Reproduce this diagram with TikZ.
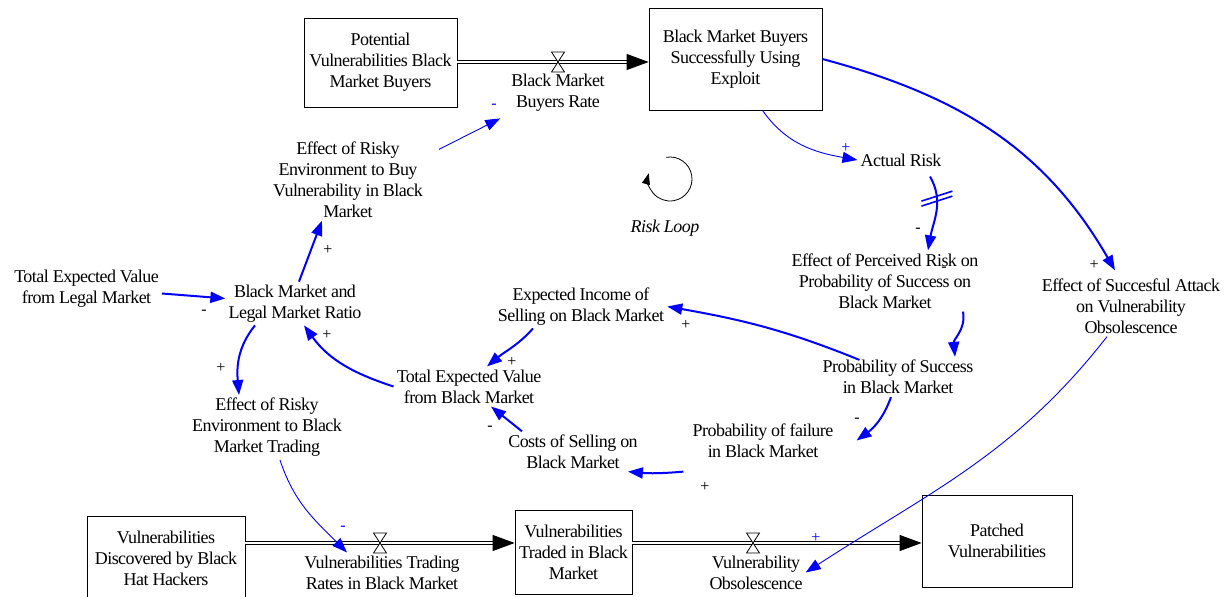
\documentclass[tikz,border=0pt]{standalone}
\usepackage{fontspec}
\setmainfont{Liberation Serif}[LetterSpace=-3]
\usetikzlibrary{arrows.meta}

\tikzset{
  var/.style={align=center, inner sep=3bp, font=\fontsize{18bp}{21bp}\selectfont},
  stock/.style={draw, line width=0.8bp, align=center, inner sep=2bp, font=\fontsize{18bp}{21bp}\selectfont},
  sign/.style={inner sep=0pt, font=\fontsize{16bp}{16bp}\selectfont},
  link/.style={draw=blue, line width=2bp, -{Triangle[length=15bp,width=11bp]}},
  thinlink/.style={draw=blue, line width=0.9bp, -{Triangle[length=15bp,width=11bp]}},
  pipe/.style={draw=black, double, double distance=2.2bp, line width=1bp},
  pipetip/.style={draw=black, line width=1bp, -{Triangle[length=22bp,width=16bp]}},
  valve/.style={draw=black, fill=white, line width=0.8bp},
}

\begin{document}
\begin{tikzpicture}
  \path[use as bounding box, fill=white] (0bp,0bp) rectangle (1229bp,597bp);

  \node (PVB) at (380.5bp,534.5bp) [stock, minimum width=153bp, minimum height=89bp] {Potential\\Vulnerabilities Black\\Market Buyers};
  \node (BMS) at (735.5bp,538bp)   [stock, minimum width=173bp, minimum height=102bp] {Black Market Buyers\\Successfully Using\\Exploit};
  \node (VD)  at (166bp,39bp)      [stock, minimum width=158bp, minimum height=84bp] {Vulnerabilities\\Discovered by Black\\Hat Hackers};
  \node (VT)  at (573.5bp,45bp)    [stock, minimum width=117bp, minimum height=84bp] {Vulnerabilities\\Traded in Black\\Market};
  \node (PV)  at (997bp,56bp)      [stock, minimum width=150bp, minimum height=92bp] {Patched\\Vulnerabilities};

  \node (BMBR) at (558bp,504.5bp) [var] {Black Market\\Buyers Rate};
  \node (VTR)  at (382bp,24.5bp)  [var] {Vulnerabilities Trading\\Rates in Black Market};
  \node (VO)   at (756bp,24.5bp)  [var] {Vulnerability\\Obsolescence};

  \node (AR)  at (901bp,437bp)    [var] {Actual Risk};
  \node (EPR) at (885bp,316bp)    [var] {Effect of Perceived Risk on\\Probability of Success on\\Black Market};
  \node (ESA) at (1131bp,291bp)   [var] {Effect of Succesful Attack\\on Vulnerability\\Obsolescence};
  \node (ERB) at (348bp,417.5bp)  [var] {Effect of Risky\\Environment to Buy\\Vulnerability in Black\\Market};
  \node (TEL) at (86.5bp,308.5bp) [var] {Total Expected Value\\from Legal Market};
  \node (BMR) at (295bp,293.5bp)  [var] {Black Market and\\Legal Market Ratio};
  \node (EIS) at (581bp,290.5bp)  [var] {Expected Income of\\Selling on Black Market};
  \node (PS)  at (898bp,220bp)    [var] {Probability of Success\\in Black Market};
  \node (TEB) at (469bp,210.5bp)  [var] {Total Expected Value\\from Black Market};
  \node (ERT) at (267bp,169.5bp)  [var] {Effect of Risky\\Environment to Black\\Market Trading};
  \node (CS)  at (573bp,145.5bp)  [var] {Costs of Selling on\\Black Market};
  \node (PF)  at (763bp,156.5bp)  [var] {Probability of failure\\in Black Market};

  \node (RL) at (665bp,369bp) [var, font=\fontsize{18bp}{21bp}\selectfont\itshape] {Risk Loop};
  \draw (670bp,418bp) ++(100:22bp) arc[start angle=100, end angle=-195, radius=22bp] [line width=0.8bp, -{Triangle[length=11bp,width=8bp]}];

  \coordinate (V1) at (558bp,535bp);
  \coordinate (V2) at (380bp,54bp);
  \coordinate (V3) at (753bp,54bp);
  \coordinate (P1) at (BMS.west |- V1);
  \coordinate (P2) at (VT.west |- V2);
  \coordinate (P3) at (PV.west |- V3);

  \draw (PVB.east |- V1) -- ([xshift=-20bp]P1) [pipe];
  \draw (VD.east |- V2) -- ([xshift=-20bp]P2) [pipe];
  \draw (VT.east |- V3) -- ([xshift=-20bp]P3) [pipe];
  \draw ([xshift=-2bp]P1) -- (P1) [pipetip];
  \draw ([xshift=-2bp]P2) -- (P2) [pipetip];
  \draw ([xshift=-2bp]P3) -- (P3) [pipetip];
  \draw (V1) ++(-6.5bp,10bp) -- ++(13bp,0bp) -- ++(-13bp,-20bp) -- ++(13bp,0bp) -- cycle [valve];
  \draw (V2) ++(-6.5bp,10bp) -- ++(13bp,0bp) -- ++(-13bp,-20bp) -- ++(13bp,0bp) -- cycle [valve];
  \draw (V3) ++(-6.5bp,10bp) -- ++(13bp,0bp) -- ++(-13bp,-20bp) -- ++(13bp,0bp) -- cycle [valve];

  \draw ([xshift=27bp]BMS.south) to[out=-55, in=170] (AR.west) [thinlink];
  \draw (BMS.east) to[out=-15, in=120] ([xshift=-16bp,yshift=5bp]ESA.north) [link];
  \draw ([xshift=29bp,yshift=-7bp]AR.south) to[out=-60, in=80] coordinate[pos=.3] (ARd) ([xshift=43bp]EPR.north) [link];
  \draw ([shift={(-15.5bp,-8bp)}]ARd) -- ([shift={(15.5bp,2bp)}]ARd) [blue, line width=1.6bp];
  \draw ([shift={(-15.5bp,-3bp)}]ARd) -- ([shift={(15.5bp,7bp)}]ARd) [blue, line width=1.6bp];
  \draw ([xshift=78bp]EPR.south) to[out=-80, in=95] ([xshift=57bp]PS.north) [link];
  \draw ([xshift=40bp,yshift=-3bp]PS.north west) to[out=158, in=-10] (EIS.east) [link];
  \draw ([xshift=-7bp]PS.south) to[out=-110, in=36] ([xshift=20bp]PF.east) [link];
  \draw ([xshift=-6bp,yshift=-11bp]PF.south west) to[out=185, in=-5] ([xshift=-13bp]CS.south east) [link];
  \draw ([xshift=-48bp]EIS.south) to[out=-132, in=40] ([xshift=18bp]TEB.north) [link];
  \draw ([xshift=-51bp]CS.north) -- ([xshift=22bp]TEB.south) [link];
  \draw (TEB.west) to[out=162, in=-54] ([xshift=9bp]BMR.south) [link];
  \draw ([yshift=-5bp]TEL.east) -- ([yshift=5bp]BMR.west) [link];
  \draw ([xshift=4bp]BMR.north) -- ([xshift=-26bp]ERB.south) [link];
  \draw ([xshift=-40bp]BMR.south) to[out=-129, in=95] ([xshift=-28bp]ERT.north) [link];
  \draw ([xshift=13bp,yshift=-11bp]ERB.north east) -- ([xshift=-8bp,yshift=-4bp]BMBR.south west) [thinlink];
  \draw ([xshift=13bp]ERT.south) to[out=-72, in=135] ([xshift=-35bp]VTR.north) [thinlink];
  \draw ([xshift=-24bp]ESA.south) to[out=-128, in=33] (VO.east) [thinlink];

  \node (s1)  at (846bp,449bp)  [sign, blue] {+};
  \node (s2)  at (1094bp,332bp) [sign] {+};
  \node (s3)  at (918bp,367bp)  [sign] {-};
  \node (s4)  at (944bp,328bp)  [sign] {-};
  \node (s5)  at (686bp,272bp)  [sign] {+};
  \node (s6)  at (857bp,177bp)  [sign] {-};
  \node (s7)  at (705bp,110bp)  [sign] {+};
  \node (s8)  at (512bp,235bp)  [sign] {+};
  \node (s9)  at (490bp,169bp)  [sign] {-};
  \node (s10) at (327bp,262bp)  [sign] {+};
  \node (s11) at (204bp,285bp)  [sign] {-};
  \node (s12) at (328bp,347bp)  [sign] {+};
  \node (s13) at (221bp,229bp)  [sign] {+};
  \node (s14) at (494bp,491bp)  [sign, blue] {-};
  \node (s15) at (343bp,69bp)   [sign, blue] {-};
  \node (s16) at (816bp,59bp)   [sign, blue] {+};
\end{tikzpicture}
\end{document}
